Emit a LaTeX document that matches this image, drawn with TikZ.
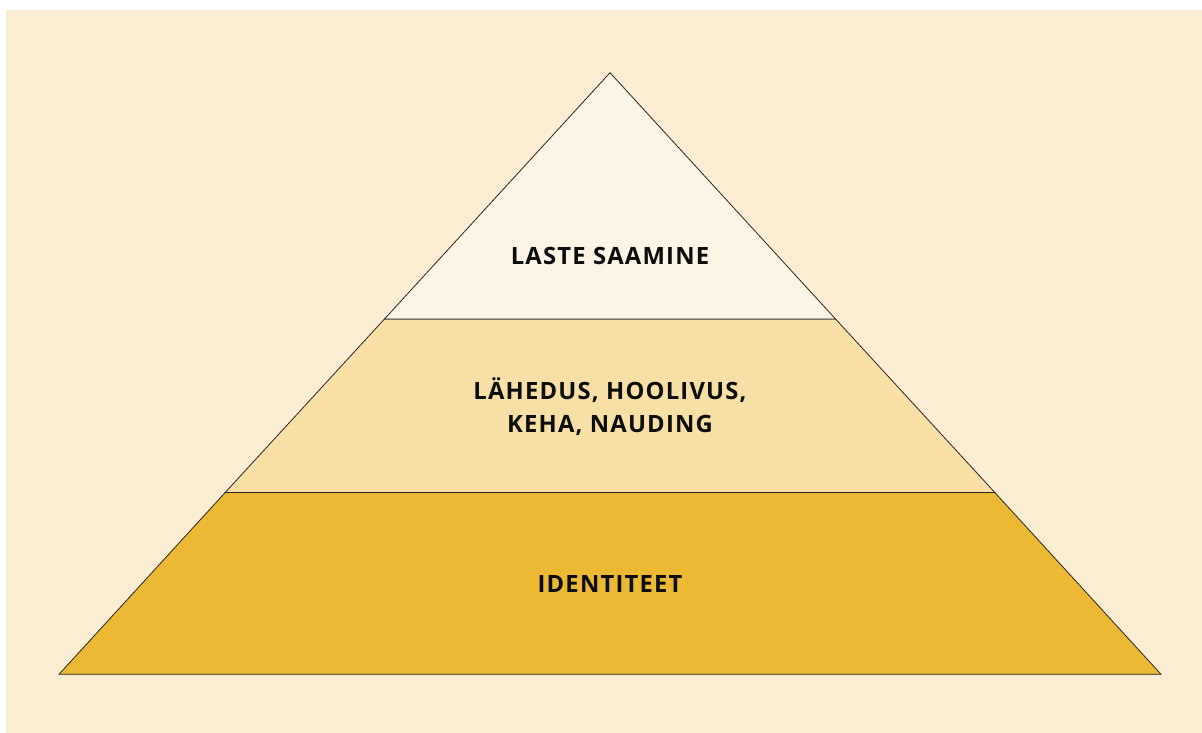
\documentclass[tikz,border=0pt]{standalone}
\usepackage{fontspec}
\setmainfont{Open Sans}[LetterSpace=5]
\definecolor{bgc}{HTML}{FBEDD2}
\definecolor{topc}{HTML}{FCF4E4}
\definecolor{midc}{HTML}{F7DFA6}
\definecolor{botc}{HTML}{ECB934}
\begin{document}
\begin{tikzpicture}[x=1pt,y=1pt,
  layer/.style={draw=black!85, line width=0.8pt, line join=miter},
  lbl/.style={font=\fontsize{23.8}{32.5}\selectfont\bfseries, text=black!95, align=center, inner sep=0pt}]
\useasboundingbox (0,0) rectangle (1202,733);
\fill[white] (0,0) rectangle (1202,733);
\fill[bgc] (6,0) rectangle (1202,723);
\coordinate (apex) at (610,660.3);
\coordinate (bl) at (59,58.7);
\coordinate (br) at (1161,58.7);
\coordinate (l2) at (225.2,240.5);
\coordinate (r2) at (994.8,240.5);
\coordinate (l1) at (384.5,414);
\coordinate (r1) at (835.5,414);
\filldraw[layer, fill=botc] (bl) -- (br) -- (r2) -- (l2) -- cycle;
\filldraw[layer, fill=midc] (l2) -- (r2) -- (r1) -- (l1) -- cycle;
\filldraw[layer, fill=topc] (l1) -- (r1) -- (apex) -- cycle;
\node[lbl, anchor=base] (t1) at (610,468.7) {LASTE SAAMINE};
\node[lbl] (t2) at (610,326.3) {LÄHEDUS, HOOLIVUS,\\KEHA, NAUDING};
\node[lbl, anchor=base] (t3) at (610,140.7) {IDENTITEET};
\end{tikzpicture}
\end{document}
